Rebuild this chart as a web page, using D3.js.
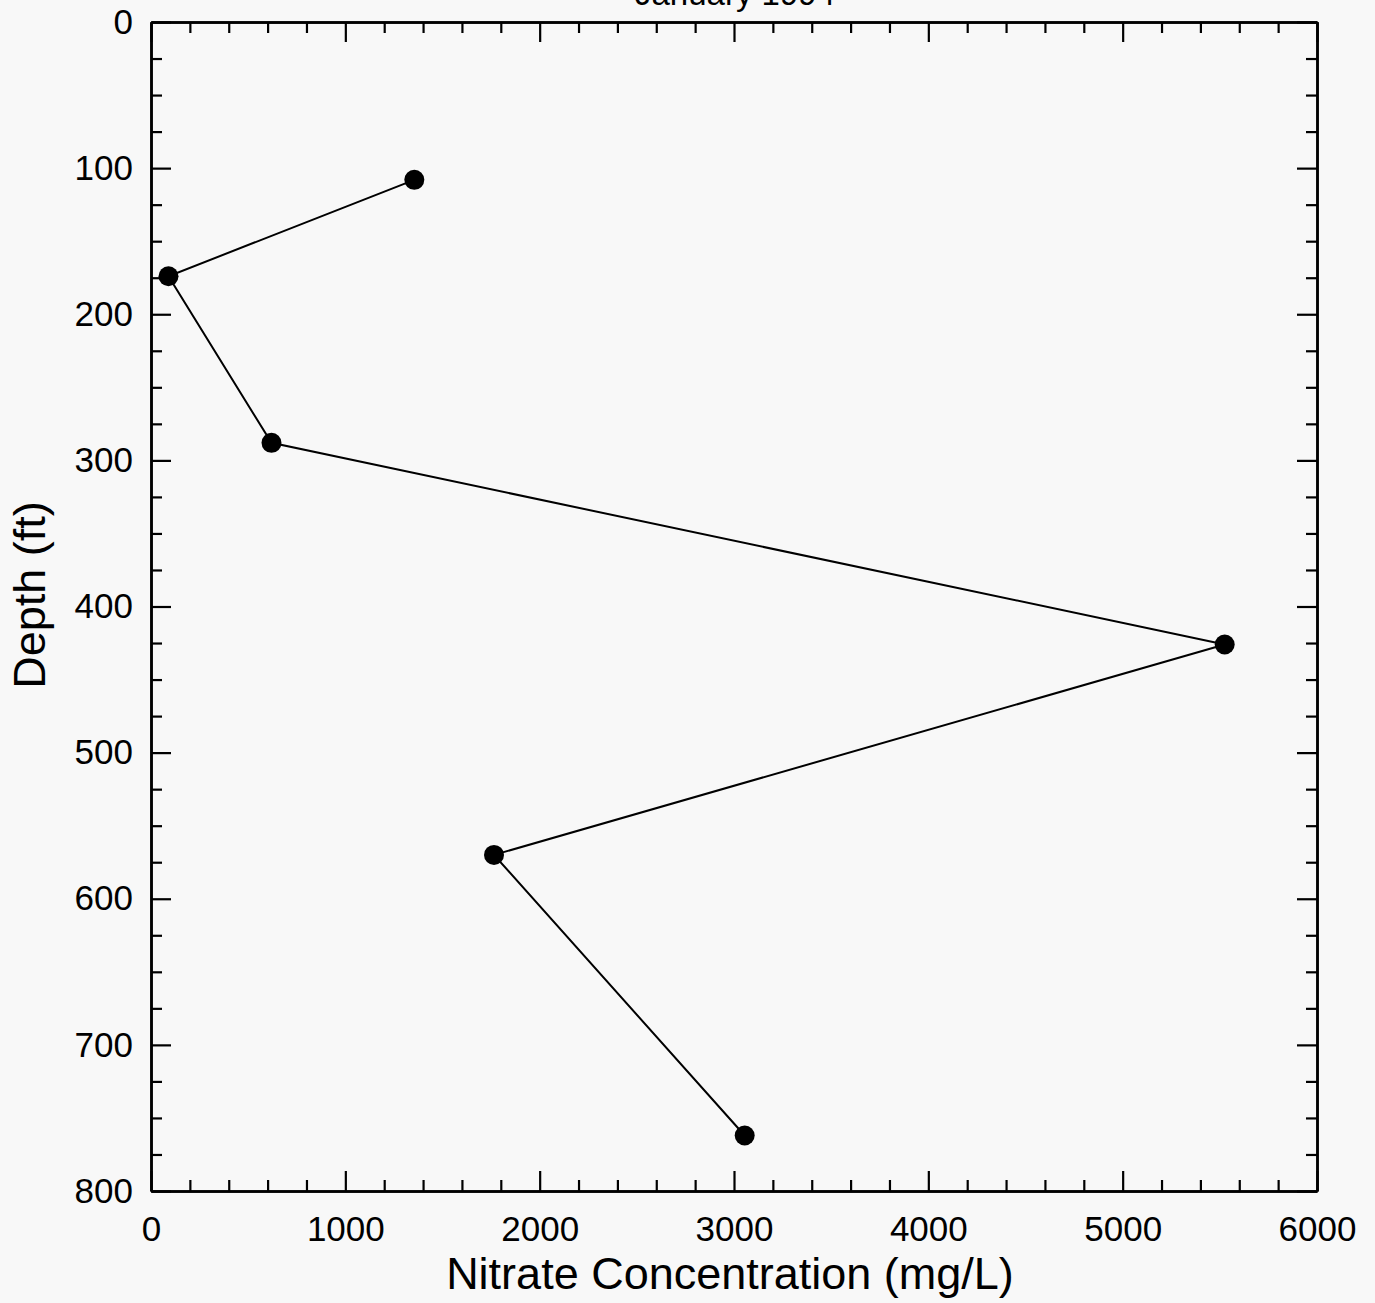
<!DOCTYPE html>
<html>
<head>
<meta charset="utf-8">
<script src="https://cdn.jsdelivr.net/npm/d3@7"></script>
<style>
  html, body { margin: 0; padding: 0; background: #f8f8f8; }
  svg { display: block; }
  text { font-family: "Liberation Sans", Arial, sans-serif; fill: #000; }
</style>
</head>
<body>
<svg id="chart" width="1375" height="1303"></svg>
<script>
// Data
const concentration = [1355, 90, 620, 5525, 1765, 3055];   // mg/L
const depth = [108, 174, 288, 426, 570, 762];               // ft
const xMajorTicks = [0, 1000, 2000, 3000, 4000, 5000, 6000];
const yMajorTicks = [0, 100, 200, 300, 400, 500, 600, 700, 800];
const titleText = "January 1994";
const xLabel = "Nitrate Concentration (mg/L)";
const yLabel = "Depth (ft)";

const svg = d3.select("#chart");
const W = 1375, H = 1303;
const m = { left: 151, right: W - 1317, top: 22, bottom: H - 1191 };

const x = d3.scaleLinear().domain([0, 6000]).range([m.left, W - m.right]);
const y = d3.scaleLinear().domain([0, 800]).range([m.top, H - m.bottom]);

const xMinor = d3.range(0, 6001, 200).filter(v => v % 1000 !== 0);
const yMinor = d3.range(0, 801, 25).filter(v => v % 100 !== 0);

const majorLen = 20, minorLen = 11;
const strokeW = 2.5;

function styleAxis(g) {
  g.selectAll("path.domain").attr("stroke", "#000").attr("stroke-width", strokeW);
  g.selectAll(".tick line").attr("stroke", "#000").attr("stroke-width", 2.2);
}

// Bottom axis
const gB = svg.append("g").attr("transform", `translate(0,${y(800)})`);
gB.call(d3.axisBottom(x).tickValues(xMajorTicks).tickSizeInner(-majorLen).tickSizeOuter(0).tickPadding(25).tickFormat(d3.format("d")));
gB.call(styleAxis);
gB.selectAll(".tick text").attr("font-size", 35).attr("font-family", "Liberation Sans, Arial, sans-serif");
const gBm = svg.append("g").attr("transform", `translate(0,${y(800)})`);
gBm.call(d3.axisBottom(x).tickValues(xMinor).tickSizeInner(-minorLen).tickSizeOuter(0).tickFormat(""));
gBm.call(styleAxis);

// Top axis
const gT = svg.append("g").attr("transform", `translate(0,${y(0)})`);
gT.call(d3.axisTop(x).tickValues(xMajorTicks).tickSizeInner(-majorLen).tickSizeOuter(0).tickFormat(""));
gT.call(styleAxis);
const gTm = svg.append("g").attr("transform", `translate(0,${y(0)})`);
gTm.call(d3.axisTop(x).tickValues(xMinor).tickSizeInner(-minorLen).tickSizeOuter(0).tickFormat(""));
gTm.call(styleAxis);

// Left axis
const gL = svg.append("g").attr("transform", `translate(${x(0)},0)`);
gL.call(d3.axisLeft(y).tickValues(yMajorTicks).tickSizeInner(-majorLen).tickSizeOuter(0).tickPadding(18).tickFormat(d3.format("d")));
gL.call(styleAxis);
gL.selectAll(".tick text").attr("font-size", 35).attr("font-family", "Liberation Sans, Arial, sans-serif");
const gLm = svg.append("g").attr("transform", `translate(${x(0)},0)`);
gLm.call(d3.axisLeft(y).tickValues(yMinor).tickSizeInner(-minorLen).tickSizeOuter(0).tickFormat(""));
gLm.call(styleAxis);

// Right axis
const gR = svg.append("g").attr("transform", `translate(${x(6000)},0)`);
gR.call(d3.axisRight(y).tickValues(yMajorTicks).tickSizeInner(-majorLen).tickSizeOuter(0).tickFormat(""));
gR.call(styleAxis);
const gRm = svg.append("g").attr("transform", `translate(${x(6000)},0)`);
gRm.call(d3.axisRight(y).tickValues(yMinor).tickSizeInner(-minorLen).tickSizeOuter(0).tickFormat(""));
gRm.call(styleAxis);

// Data line and markers
const pts = concentration.map((c, i) => ({ c, d: depth[i] }));
svg.append("path")
  .datum(pts)
  .attr("fill", "none")
  .attr("stroke", "#000")
  .attr("stroke-width", 2)
  .attr("d", d3.line().x(p => x(p.c)).y(p => y(p.d)));

svg.selectAll("circle.pt")
  .data(pts)
  .enter().append("circle")
  .attr("class", "pt")
  .attr("cx", p => x(p.c))
  .attr("cy", p => y(p.d))
  .attr("r", 10)
  .attr("fill", "#000");

// Title (mostly cut off at top, as in the reference)
svg.append("text")
  .attr("x", 735)
  .attr("y", 5)
  .attr("text-anchor", "middle")
  .attr("font-size", 33)
  .text(titleText);

// Axis titles
svg.append("text")
  .attr("x", 730)
  .attr("y", 1289)
  .attr("text-anchor", "middle")
  .attr("font-size", 45)
  .text(xLabel);

svg.append("text")
  .attr("transform", `translate(45,${595}) rotate(-90)`)
  .attr("text-anchor", "middle")
  .attr("font-size", 45)
  .text(yLabel);
</script>
</body>
</html>
